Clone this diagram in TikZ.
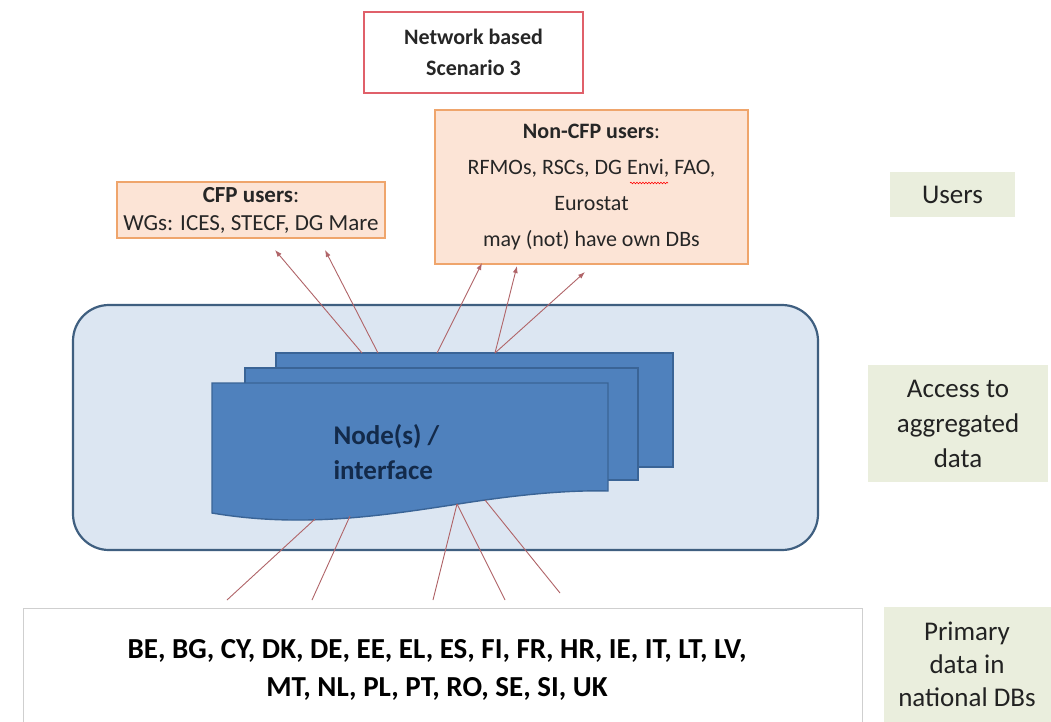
\documentclass[tikz,border=0pt]{standalone}
\usepackage{fontspec}
\setmainfont{Carlito}
\usetikzlibrary{arrows.meta,decorations.pathmorphing}
\definecolor{titlered}{HTML}{E0606A}
\definecolor{peach}{HTML}{FCE4D6}
\definecolor{peachborder}{HTML}{EFA56C}
\definecolor{labelgreen}{HTML}{EAEEDD}
\definecolor{lightblue}{HTML}{DCE6F2}
\definecolor{rectborder}{HTML}{3F5F80}
\definecolor{docblue}{HTML}{4F81BD}
\definecolor{docborder}{HTML}{3A6496}
\definecolor{navy}{HTML}{132A4A}
\definecolor{arrowred}{HTML}{B06468}
\definecolor{greyborder}{HTML}{CFCFCF}
\definecolor{txt}{HTML}{262626}
\tikzset{
  userbox/.style={draw=peachborder, fill=peach, line width=1.8pt, inner sep=0pt, align=center, text=txt, font=\fontsize{22}{36}\selectfont},
  levelbox/.style={fill=labelgreen, inner sep=0pt, align=center, text=txt!90!black, font=\fontsize{27}{35}\selectfont},
  arr/.style={draw=arrowred, line width=0.9pt, -{Latex[length=7pt,width=5pt]}},
  ln/.style={draw=arrowred, line width=0.9pt},
  doc/.style={fill=docblue, draw=docborder, line width=1.4pt}
}
\begin{document}
\begin{tikzpicture}[x=1pt,y=-1pt]
\path[use as bounding box, fill=white] (0,0) rectangle (1051,722);

% title
\node[draw=titlered, line width=1.8pt, fill=white, minimum width=219pt, minimum height=81pt, inner sep=0pt, align=center, font=\fontsize{22}{31}\selectfont\bfseries, text=txt] (title) at (473.5,52.5) {Network based\\Scenario 3};

% user boxes
\node[userbox, minimum width=268pt, minimum height=56pt, font=\fontsize{23}{28}\selectfont] (cfp) at (251,210) {\textbf{CFP users}:\\WGs: ICES, STECF, DG Mare};
\node[userbox, minimum width=313pt, minimum height=154pt] (ncfp) at (591.5,187) {\textbf{Non-CFP users}:\\RFMOs, RSCs, DG Envi, FAO,\\Eurostat\\may (not) have own DBs};
\draw[red, line width=0.6pt, decorate, decoration={snake, amplitude=0.8pt, segment length=3pt}] (630,183) -- (668,183);

% level labels
\node[levelbox, minimum width=125pt, minimum height=45pt] (users) at (952.5,194.5) {Users};
\node[levelbox, minimum width=180pt, minimum height=117pt] (access) at (958,423.5) {Access to\\aggregated\\data};
\node[levelbox, minimum width=170pt, minimum height=120pt, anchor=north west] (primary) at (884,607) {};
\node[align=center, font=\fontsize{27}{33}\selectfont, text=txt!90!black] (primarytxt) at (967,664) {Primary\\data in\\national DBs};

% big rounded rectangle
\node[draw=rectborder, fill=lightblue, line width=2.2pt, rounded corners=36pt, minimum width=745pt, minimum height=245pt, inner sep=0pt] (agg) at (445.5,427.5) {};

% stacked documents
\path[doc] (276,353) rectangle (673,467);
\path[doc] (245,368) rectangle (638,480);
\path[doc] (212,383) -- (608,383) -- (608,491)
  .. controls (570,490) and (520,494) .. (452,505)
  .. controls (380,516) and (300,528) .. (212,513) -- cycle;
\node[anchor=west, align=left, font=\fontsize{27}{35}\selectfont\bfseries, text=navy] (nodetxt) at (330,452) {Node(s) /\\interface};

% countries box
\node[draw=greyborder, line width=1.2pt, fill=white, minimum width=839pt, minimum height=130pt, inner sep=0pt, anchor=north west] (countries) at (23,608) {};
\node[align=center, font=\fontsize{29}{38}\selectfont\bfseries, text=black] (ctxt) at (437,670) {BE, BG, CY, DK, DE, EE, EL, ES, FI, FR, HR, IE, IT, LT, LV,\\MT, NL, PL, PT, RO, SE, SI, UK};

% arrow coordinates
\coordinate (s1) at (362,353);
\coordinate (s2) at (378,353);
\coordinate (s3) at (437,353);
\coordinate (s4) at (495,353);
\coordinate (e1) at (275,250);
\coordinate (e2) at (325,250);
\coordinate (e3) at (482,263);
\coordinate (e4) at (517,266);
\coordinate (e5) at (585,272);
\draw[arr] (s1) -- (e1);
\draw[arr] (s2) -- (e2);
\draw[arr] (s3) -- (e3);
\draw[arr] (s4) -- (e4);
\draw[arr] (s4) -- (e5);

% lines from national DBs
\coordinate (b1) at (227,600);
\coordinate (b2) at (312,600);
\coordinate (b3) at (433,600);
\coordinate (b4) at (505,600);
\coordinate (b5) at (560,593);
\coordinate (d1) at (315,519);
\coordinate (d2) at (350,516);
\coordinate (d3) at (457,504);
\coordinate (d4) at (485,500);
\draw[ln] (b1) -- (d1);
\draw[ln] (b2) -- (d2);
\draw[ln] (b3) -- (d3);
\draw[ln] (b4) -- (d3);
\draw[ln] (b5) -- (d4);
\end{tikzpicture}
\end{document}
